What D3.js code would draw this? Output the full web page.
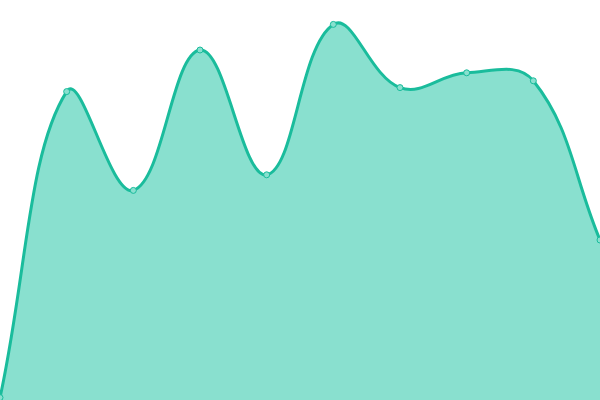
<!DOCTYPE html>
<html>
<head>
<meta charset="utf-8">
<script src="https://cdn.jsdelivr.net/npm/d3@7"></script>
<style>
  html, body { margin: 0; padding: 0; background: #fff; }
  svg { display: block; }
</style>
</head>
<body>
<div class="chart"></div>
<script>
// values (0..100 scale)
const labels = ["1", "2", "3", "4", "5", "6", "7", "8", "9", "10"];
const values = [0.6, 77.1, 52.4, 87.5, 56.3, 93.9, 78.1, 81.8, 79.8, 40.0];

const width = 600, height = 400;
const tension = 0.4;

// spline with distance-weighted control points (same shape as chart.js lines)
function SplineCurve(context) { this._context = context; }
SplineCurve.prototype = {
  areaStart() { this._line = 0; },
  areaEnd() { this._line = NaN; },
  lineStart() { this._x = []; this._y = []; },
  point(x, y) { this._x.push(+x); this._y.push(+y); },
  lineEnd() {
    const xs = this._x, ys = this._y, n = xs.length, c = this._context;
    if (n) {
      if (this._line) c.lineTo(xs[0], ys[0]); else c.moveTo(xs[0], ys[0]);
    }
    // control points for each point
    const cps = [];
    for (let i = 0; i < n; i++) {
      const px = xs[Math.max(i - 1, 0)], py = ys[Math.max(i - 1, 0)];
      const nx = xs[Math.min(i + 1, n - 1)], ny = ys[Math.min(i + 1, n - 1)];
      const d01 = Math.hypot(xs[i] - px, ys[i] - py);
      const d12 = Math.hypot(nx - xs[i], ny - ys[i]);
      let s01 = d01 / (d01 + d12), s12 = d12 / (d01 + d12);
      if (isNaN(s01)) s01 = 0;
      if (isNaN(s12)) s12 = 0;
      const fa = tension * s01, fb = tension * s12;
      cps.push({
        px: xs[i] - fa * (nx - px), py: ys[i] - fa * (ny - py),
        nx: xs[i] + fb * (nx - px), ny: ys[i] + fb * (ny - py)
      });
    }
    for (let i = 1; i < n; i++) {
      c.bezierCurveTo(cps[i - 1].nx, cps[i - 1].ny, cps[i].px, cps[i].py, xs[i], ys[i]);
    }
    if (this._line || (this._line !== 0 && n === 1)) c.closePath();
    this._line = 1 - this._line;
  }
};
const curve = context => new SplineCurve(context);

const x = d3.scalePoint()
  .domain(labels)
  .range([0, width]);

const y = d3.scaleLinear()
  .domain([0, 100])
  .range([height, 0]);

const svg = d3.select(".chart")
  .append("svg")
  .attr("width", width)
  .attr("height", height);

const area = d3.area()
  .x((d, i) => x(labels[i]))
  .y0(height)
  .y1(d => y(d))
  .curve(curve);

const line = d3.line()
  .x((d, i) => x(labels[i]))
  .y(d => y(d))
  .curve(curve);

svg.append("path")
  .datum(values)
  .attr("d", area)
  .attr("fill", "#89e0cf");

svg.append("path")
  .datum(values)
  .attr("d", line)
  .attr("fill", "none")
  .attr("stroke", "#1abc9c")
  .attr("stroke-width", 3);

svg.selectAll("circle")
  .data(values)
  .enter()
  .append("circle")
  .attr("cx", (d, i) => x(labels[i]))
  .attr("cy", d => y(d))
  .attr("r", 3)
  .attr("fill", "#89e0cf")
  .attr("stroke", "#1abc9c")
  .attr("stroke-width", 1);
</script>
</body>
</html>
